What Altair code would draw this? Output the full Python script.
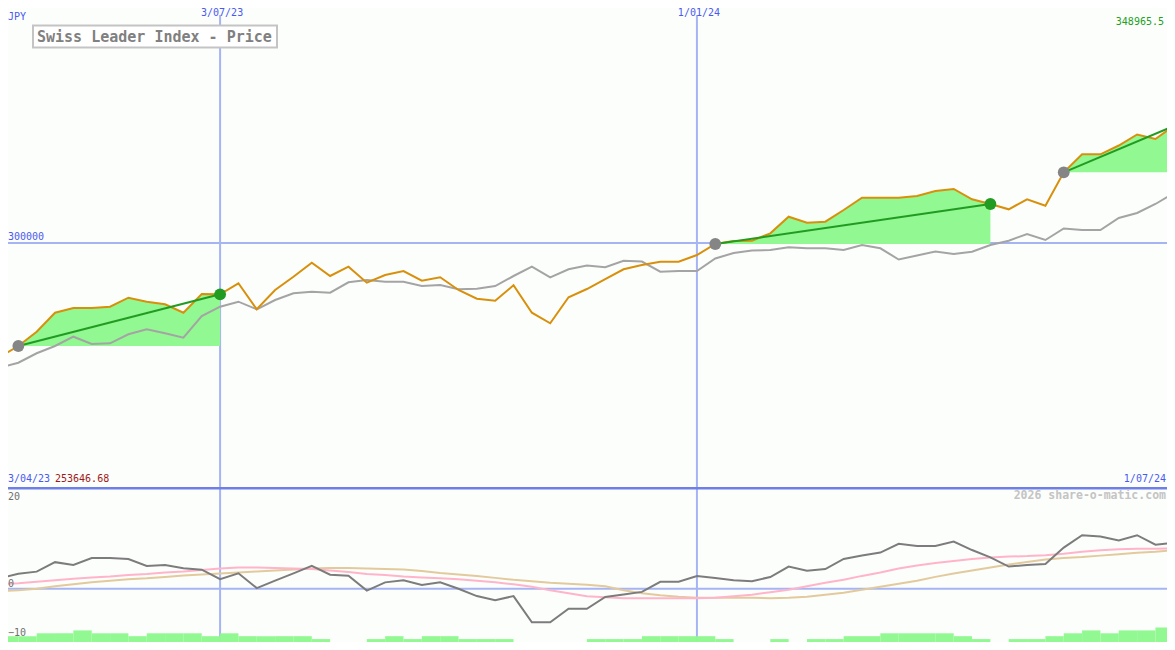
import altair as alt
import pandas as pd

# ---------------- data ----------------
dates = [d.strftime("%Y-%m-%d") for d in pd.date_range("2023-04-10", periods=65, freq="7D")]

price = [278400, 280430, 283150, 286760, 287650, 287650, 287900, 289610, 288850, 288355,
         286760, 290310, 290250, 292345, 287405, 291070, 293600, 296260, 293730, 295500,
         292460, 293920, 294680, 292840, 293485, 291070, 289420, 289040, 291965, 286760,
         284745, 289685, 291260, 293160, 295005, 295820, 296450, 296450, 297720, 299810,
         300380, 300440, 301840, 305000, 303860, 304050, 306270, 308610, 308610, 308610,
         308930, 309880, 310260, 308300, 307410, 306400, 308300, 307090, 313430, 316850,
         316850, 318520, 320610, 319760, 322230]

avg = [276310, 277260, 279050, 280430, 282200, 280810, 280945, 282655, 283605, 282845,
       282010, 286130, 287900, 288850, 287405, 289170, 290445, 290750, 290560, 292535,
       292970, 292650, 292650, 291830, 292020, 291205, 291320, 291830, 293730, 295500,
       293485, 295005, 295725, 295385, 296640, 296485, 294550, 294680, 294680, 297055,
       298100, 298575, 298670, 299180, 298990, 298990, 298670, 299620, 298990, 296865,
       297625, 298385, 297910, 298350, 299620, 300440, 301710, 300570, 302755, 302470,
       302470, 304750, 305700, 307410, 309500]

osc = [2.17, 3.02, 3.46, 5.38, 4.81, 6.21, 6.21, 6.02, 4.62, 4.81,
       4.17, 3.85, 1.92, 3.13, 0.13, 1.63, 3.12, 4.62, 2.83, 2.63,
       -0.38, 1.29, 1.73, 0.77, 1.29, 0.0, -1.48, -2.31, -1.48, -6.79,
       -6.79, -4.04, -4.04, -1.67, -1.15, -0.63, 1.40, 1.40, 2.56, 2.17,
       1.73, 1.54, 2.37, 4.48, 3.65, 3.98, 6.02, 6.73, 7.31, 9.10,
       8.65, 8.65, 9.56, 7.83, 6.35, 4.48, 4.81, 5.0, 8.33, 10.83,
       10.58, 9.75, 10.83, 8.90, 9.29]

osc_fast = [0.9, 1.1, 1.4, 1.7, 2.0, 2.3, 2.5, 2.8, 3.0, 3.3,
            3.5, 3.8, 4.1, 4.3, 4.3, 4.2, 4.1, 4.0, 3.7, 3.4,
            3.0, 2.8, 2.5, 2.3, 2.1, 1.9, 1.6, 1.3, 0.9, 0.4,
            -0.3, -0.9, -1.5, -1.7, -1.9, -1.9, -1.9, -1.9, -1.9, -1.8,
            -1.5, -1.2, -0.7, -0.2, 0.5, 1.2, 1.8, 2.6, 3.3, 4.1,
            4.7, 5.2, 5.6, 6.0, 6.3, 6.5, 6.6, 6.8, 7.1, 7.5,
            7.8, 8.0, 8.1, 8.1, 8.2]

osc_slow = [-0.5, -0.3, 0.0, 0.5, 0.9, 1.3, 1.6, 1.9, 2.1, 2.4,
            2.7, 2.9, 3.1, 3.3, 3.5, 3.7, 3.9, 4.1, 4.2, 4.2,
            4.1, 4.0, 3.9, 3.6, 3.2, 2.9, 2.6, 2.2, 1.8, 1.5,
            1.2, 1.0, 0.8, 0.5, -0.3, -0.9, -1.3, -1.6, -1.8, -1.8,
            -1.8, -1.8, -1.9, -1.8, -1.6, -1.2, -0.8, -0.2, 0.4, 1.0,
            1.6, 2.4, 3.1, 3.7, 4.3, 4.9, 5.4, 5.9, 6.2, 6.4,
            6.7, 7.0, 7.3, 7.5, 7.8]

volume = [2, 2, 3, 3, 4, 3, 3, 2, 3, 3,
          3, 2, 3, 2, 2, 2, 2, 1, 0, 0,
          1, 2, 1, 2, 2, 1, 1, 1, 0, 0,
          0, 0, 1, 1, 1, 2, 2, 2, 2, 1,
          0, 0, 1, 0, 1, 1, 2, 2, 3, 3,
          3, 3, 2, 1, 0, 1, 1, 2, 3, 4,
          3, 4, 4, 5, 5]

signal_start = [1, 39, 58]
signal_end = [12, 54, 64]
signal_closed = [True, True, False]

grid_dates = ["2023-07-03", "2024-01-01"]
grid_labels = ["3/07/23", "1/01/24"]
price_grid = [300000]
price_grid_label = ["300000"]
range_high = ["348965.5"]
range_low = ["253646.68"]
start_label = ["3/04/23"]
end_label = ["1/07/24"]
currency = ["JPY"]
title = ["Swiss Leader Index - Price"]
watermark = ["2026 share-o-matic.com"]
osc_ticks_top = ["20"]
osc_ticks = [0, -10]

# ---------------- layout / style ----------------
W = 1159          # fits inside the page body (1175 - 2 * 8)
H1 = 479          # main panel
H2 = 155          # oscillator panel

MONO = "DejaVu Sans Mono"
BG = "#FCFEFC"
GRID = "#A6B4F4"
SEP = "#6F7FE8"
BLUE = "#4A5AF0"
ORANGE = "#D8900C"
GRAYL = "#A4A4A4"
FILL = "#92F892"
GREEN = "#229B22"
DARK = "#7C7C7C"
PINK = "#FFB4CA"
TAN = "#E2CA9C"

# x = week number since the first date
xscale = alt.Scale(domain=[0.436, 63.63], nice=False, zero=False)
ymain = alt.Scale(domain=[253646.68, 344643], nice=False, zero=False)
ylow = alt.Scale(domain=[-10.77, 20.58], nice=False, zero=False)
yvol = alt.Scale(domain=[0, 53.4], nice=False, zero=False)

X = alt.X("wk:Q", scale=xscale, axis=None)

weeks = list(range(len(dates)))
df = pd.DataFrame({"date": dates, "wk": weeks, "wk_end": [w + 1 for w in weeks],
                   "price": price, "avg": avg, "osc": osc, "fast": osc_fast,
                   "slow": osc_slow, "vol": volume})

area_rows, trend_rows, dot_rows = [], [], []
for k, (s, e, closed) in enumerate(zip(signal_start, signal_end, signal_closed)):
    for i in range(s, e + 1):
        area_rows.append({"seg": k, "wk": i, "price": price[i], "base": price[s]})
    trend_rows.append({"seg": k, "wk": s, "price": price[s]})
    trend_rows.append({"seg": k, "wk": e, "price": price[e]})
    dot_rows.append({"kind": "start", "wk": s, "price": price[s]})
    if closed:
        dot_rows.append({"kind": "end", "wk": e, "price": price[e]})
area_df = pd.DataFrame(area_rows)
trend_df = pd.DataFrame(trend_rows)
dot_df = pd.DataFrame(dot_rows)
grid_df = pd.DataFrame({"wk": [dates.index(d) for d in grid_dates], "t": grid_labels})


def txt(values, **kw):
    return alt.Chart(pd.DataFrame({"t": values})).mark_text(font=MONO, **kw)


# ---------------- main panel ----------------
m_hgrid = alt.Chart(pd.DataFrame({"v": price_grid})).mark_rule(
    color=GRID, strokeWidth=2, clip=True).encode(y=alt.Y("v:Q", scale=ymain, axis=None))
m_hgrid_lab = alt.Chart(pd.DataFrame({"v": price_grid, "t": price_grid_label})).mark_text(
    font=MONO, fontSize=10, color=BLUE, align="left", baseline="bottom", dy=-1).encode(
    x=alt.value(0), y=alt.Y("v:Q", scale=ymain, axis=None), text="t:N")
m_vgrid = alt.Chart(grid_df).mark_rule(color=GRID, strokeWidth=2, clip=True).encode(
    x=X, y=alt.value(7), y2=alt.value(H1))
m_vgrid_lab = alt.Chart(grid_df).mark_text(
    font=MONO, fontSize=10, color=BLUE, align="center", baseline="top", dx=2).encode(
    x=X, y=alt.value(0), text="t:N")

m_area = alt.Chart(area_df).mark_area(color=FILL, opacity=1, clip=True).encode(
    x=X, y=alt.Y("price:Q", scale=ymain, axis=None), y2="base:Q", detail="seg:N")
m_avg = alt.Chart(df).mark_line(color=GRAYL, strokeWidth=2, clip=True).encode(
    x=X, y=alt.Y("avg:Q", scale=ymain, axis=None))
m_price = alt.Chart(df).mark_line(color=ORANGE, strokeWidth=2, clip=True).encode(
    x=X, y=alt.Y("price:Q", scale=ymain, axis=None))
m_trend = alt.Chart(trend_df).mark_line(color=GREEN, strokeWidth=2, clip=True).encode(
    x=X, y=alt.Y("price:Q", scale=ymain, axis=None), detail="seg:N")
m_dots = alt.Chart(dot_df).mark_circle(size=140, opacity=1, clip=True).encode(
    x=X, y=alt.Y("price:Q", scale=ymain, axis=None),
    color=alt.Color("kind:N", scale=alt.Scale(domain=["start", "end"], range=["#858585", GREEN]),
                    legend=None))

m_box = alt.Chart(pd.DataFrame({"t": title})).mark_rect(
    fill="#FFFFFF", stroke="#C4C4C4", strokeWidth=2).encode(
    x=alt.value(25), x2=alt.value(269), y=alt.value(17.5), y2=alt.value(39.5))
m_title = txt(title, fontSize=15, fontWeight="bold", color="#808080", align="left",
              baseline="middle").encode(x=alt.value(29), y=alt.value(28.5), text="t:N")
m_cur = txt(currency, fontSize=10, color=BLUE, align="left", baseline="middle").encode(
    x=alt.value(0), y=alt.value(9), text="t:N")
m_high = txt(range_high, fontSize=10, color="#22A022", align="right", baseline="middle").encode(
    x=alt.value(1156), y=alt.value(14), text="t:N")
m_start = txt(start_label, fontSize=10, color=BLUE, align="left", baseline="middle").encode(
    x=alt.value(0), y=alt.value(471), text="t:N")
m_low = txt(range_low, fontSize=10, color="#A01818", align="left", baseline="middle").encode(
    x=alt.value(47), y=alt.value(471), text="t:N")
m_end = txt(end_label, fontSize=10, color=BLUE, align="right", baseline="middle").encode(
    x=alt.value(1158), y=alt.value(471), text="t:N")

main = alt.layer(
    m_hgrid, m_vgrid, m_area, m_avg, m_price, m_trend, m_dots,
    m_box, m_title, m_hgrid_lab, m_vgrid_lab, m_cur, m_high, m_start, m_low, m_end,
).properties(width=W, height=H1)

# ---------------- lower panel ----------------
l_zero = alt.Chart(pd.DataFrame({"v": [0]})).mark_rule(
    color=GRID, strokeWidth=2, clip=True).encode(y=alt.Y("v:Q", scale=ylow, axis=None))
l_vgrid = alt.Chart(grid_df).mark_rule(color=GRID, strokeWidth=2, clip=True).encode(
    x=X, y=alt.value(0), y2=alt.value(H2))
l_vol = alt.Chart(df).mark_rect(color=FILL, clip=True).encode(
    x=X, x2="wk_end:Q", y=alt.Y("vol:Q", scale=yvol, axis=None), y2=alt.datum(0))
l_slow = alt.Chart(df).mark_line(color=TAN, strokeWidth=2, clip=True).encode(
    x=X, y=alt.Y("slow:Q", scale=ylow, axis=None))
l_fast = alt.Chart(df).mark_line(color=PINK, strokeWidth=2, clip=True).encode(
    x=X, y=alt.Y("fast:Q", scale=ylow, axis=None))
l_osc = alt.Chart(df).mark_line(color=DARK, strokeWidth=2, clip=True).encode(
    x=X, y=alt.Y("osc:Q", scale=ylow, axis=None))
l_sep = alt.Chart(pd.DataFrame({"v": [0]})).mark_rule(
    color=SEP, strokeWidth=2.5, clip=True).encode(y=alt.value(1.25))
l_tick_top = txt(osc_ticks_top, fontSize=10, color="#707070", align="left", baseline="middle").encode(
    x=alt.value(0), y=alt.value(10), text="t:N")
l_ticks = alt.Chart(pd.DataFrame({"v": osc_ticks})).mark_text(
    font=MONO, fontSize=10, color="#707070", align="left", baseline="middle", dy=-5).encode(
    x=alt.value(0), y=alt.Y("v:Q", scale=ylow, axis=None), text="v:Q")
l_wm = txt(watermark, fontSize=11.5, fontWeight="bold", color="#C4C4C4", align="right",
           baseline="middle").encode(x=alt.value(1158), y=alt.value(9), text="t:N")

lower = alt.layer(
    l_zero, l_vgrid, l_vol, l_slow, l_fast, l_osc, l_sep, l_tick_top, l_ticks, l_wm
).resolve_scale(y="independent").properties(width=W, height=H2)

chart = alt.vconcat(main, lower, spacing=0, bounds="flush").properties(
    padding=0, background=BG).configure_view(stroke=None)

chart.save("out.html", embed_options={"renderer": "svg", "actions": False})
